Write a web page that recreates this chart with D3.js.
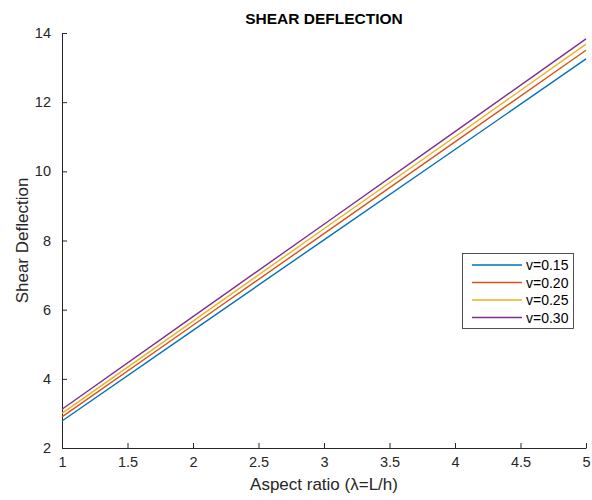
<!DOCTYPE html>
<html>
<head>
<meta charset="utf-8">
<script src="https://cdn.jsdelivr.net/npm/d3@7"></script>
<style>
  body { margin: 0; background: #fff; }
  svg { font-family: Arial, "Liberation Sans", sans-serif; }
</style>
</head>
<body>
<div id="chart"></div>
<script>
// values
const lambda = [1, 2, 3, 4, 5];
const v015 = [2.78, 5.40, 8.02, 10.63, 13.25];
const v020 = [2.90, 5.55, 8.20, 10.85, 13.50];
const v025 = [3.00, 5.67, 8.34, 11.00, 13.68];
const v030 = [3.12, 5.80, 8.47, 11.15, 13.83];
const seriesNames = ['v=0.15', 'v=0.20', 'v=0.25', 'v=0.30'];
const seriesColors = ['#0072BD', '#D95319', '#EDB120', '#7E2F8E'];
const xTicks = [1, 1.5, 2, 2.5, 3, 3.5, 4, 4.5, 5];
const yTicks = [2, 4, 6, 8, 10, 12, 14];

const width = 592, height = 500;
const margin = {top: 33, right: 6, bottom: 52, left: 62};

const svg = d3.select('#chart').append('svg')
    .attr('width', width)
    .attr('height', height);

const xScale = d3.scaleLinear().domain([1, 5]).range([margin.left, width - margin.right]);
const yScale = d3.scaleLinear().domain([2, 14]).range([height - margin.bottom, margin.top]);

// axes, ticks pointing inward like matlab
let xAxis = svg.append('g')
    .attr('transform', 'translate(0,' + (height - margin.bottom) + ')')
    .call(d3.axisBottom(xScale).tickValues(xTicks).tickFormat(d3.format('')).tickSizeInner(-5).tickSizeOuter(0).tickPadding(9));
let yAxis = svg.append('g')
    .attr('transform', 'translate(' + margin.left + ',0)')
    .call(d3.axisLeft(yScale).tickValues(yTicks).tickSizeInner(-5).tickSizeOuter(0).tickPadding(11));

[xAxis, yAxis].forEach(ax => {
    ax.select('.domain').attr('stroke', '#262626');
    ax.selectAll('.tick line').attr('stroke', '#262626');
    ax.selectAll('text').attr('fill', '#262626').style('font-size', '14.5px');
});

// lines
const data = [v015, v020, v025, v030];
let line = d3.line()
    .x((d, i) => xScale(lambda[i]))
    .y(d => yScale(d));
svg.append('g').selectAll('path').data(data).enter().append('path')
    .attr('d', d => line(d))
    .attr('fill', 'none')
    .attr('stroke', (d, i) => seriesColors[i])
    .attr('stroke-width', 1.4);

// title and labels
svg.append('text').text('SHEAR DEFLECTION')
    .attr('x', (margin.left + width - margin.right) / 2).attr('y', 24)
    .attr('text-anchor', 'middle')
    .style('font-size', '15.5px').style('font-weight', 'bold')
    .attr('fill', '#000');
svg.append('text').text('Aspect ratio (\u03bb=L/h)')
    .attr('x', (margin.left + width - margin.right) / 2).attr('y', 490)
    .attr('text-anchor', 'middle')
    .style('font-size', '17px')
    .attr('fill', '#262626');
svg.append('text').text('Shear Deflection')
    .attr('transform', 'translate(28,' + yScale(8) + ') rotate(-90)')
    .attr('text-anchor', 'middle')
    .style('font-size', '17px')
    .attr('fill', '#262626');

// legend
let legend = svg.append('g').attr('transform', 'translate(462.5,253.5)');
legend.append('rect')
    .attr('width', 111).attr('height', 75)
    .attr('fill', '#fff').attr('stroke', '#262626').attr('stroke-width', 0.8);
seriesNames.forEach((name, i) => {
    let row = legend.append('g').attr('transform', 'translate(0,' + (11.5 + i * 17.5) + ')');
    row.append('line').attr('x1', 9.5).attr('x2', 59.5).attr('y1', 0).attr('y2', 0)
        .attr('stroke', seriesColors[i]).attr('stroke-width', 1.4);
    row.append('text').text(name).attr('x', 63.5).attr('y', 5)
        .style('font-size', '14px').attr('fill', '#000');
});
</script>
</body>
</html>
